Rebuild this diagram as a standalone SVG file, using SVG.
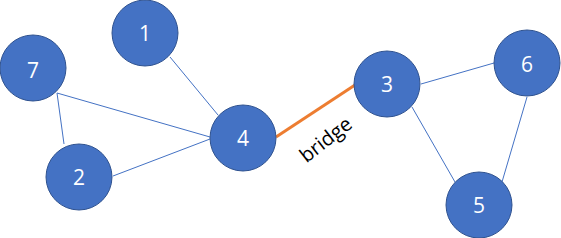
<svg xmlns="http://www.w3.org/2000/svg" width="561" height="238" viewBox="0 0 561 238">
<style>
.n circle{fill:#4472C4;stroke:#2F528F;stroke-width:1}
.n text{fill:#fff;font-family:"Open Sans","Noto Sans",sans-serif;font-size:21px;text-anchor:middle;dominant-baseline:central}
.e line{stroke:#4472C4;stroke-width:1}
.e line.b{stroke:#ED7D31;stroke-width:3}
.lbl{font-family:"Open Sans","Noto Sans",sans-serif;font-size:20px;fill:#000;text-anchor:middle}
</style>
<rect width="561" height="238" fill="#fff"/>
<g id="connectors" class="e">
<line x1="170" y1="57" x2="218" y2="115"/>
<line x1="57" y1="93" x2="210" y2="137"/>
<line x1="57" y1="93" x2="64" y2="144"/>
<line x1="113" y1="176" x2="210" y2="139"/>
<line x1="421" y1="84" x2="494" y2="63"/>
<line x1="412" y1="107" x2="455" y2="182"/>
<line x1="527" y1="97" x2="502" y2="182"/>
<line class="b" x1="276" y1="137" x2="355" y2="85"/>
<text class="lbl" x="330" y="145" transform="rotate(-38 330 145)" style="transform:rotate(-38deg);transform-origin:330px 145px">bridge</text>
</g>
<g id="node1" class="n"><circle cx="145" cy="33" r="33"/><text x="145" y="33">1</text></g>
<g id="node7" class="n"><circle cx="33" cy="68" r="33"/><text x="33" y="70">7</text></g>
<g id="node2" class="n"><circle cx="79" cy="177" r="33"/><text x="79" y="177">2</text></g>
<g id="node4" class="n"><circle cx="243" cy="138" r="33"/><text x="243" y="138">4</text></g>
<g id="node3" class="n"><circle cx="387" cy="84" r="33"/><text x="387" y="84">3</text></g>
<g id="node6" class="n"><circle cx="527" cy="63" r="33"/><text x="527" y="64">6</text></g>
<g id="node5" class="n"><circle cx="479" cy="205" r="33"/><text x="479" y="205">5</text></g>
</svg>
